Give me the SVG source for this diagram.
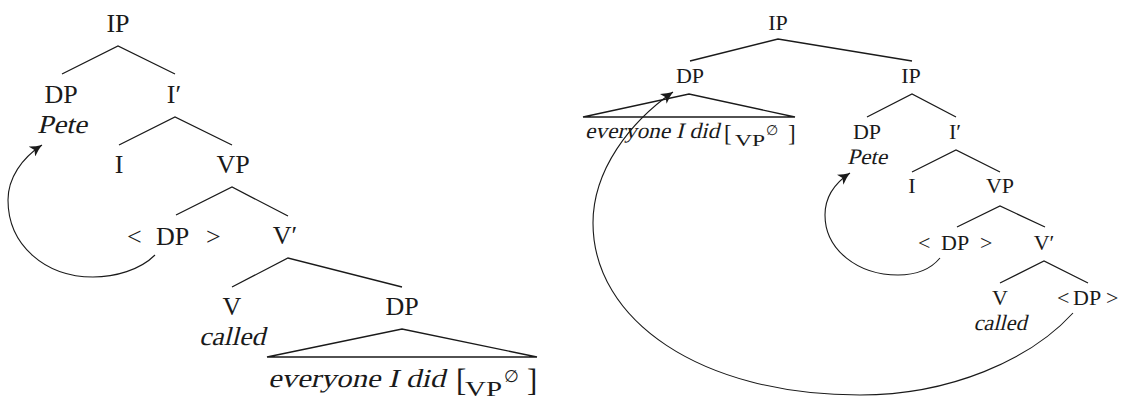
<svg xmlns="http://www.w3.org/2000/svg" width="1126" height="402" viewBox="0 0 1126 402" font-family="'Liberation Serif', 'DejaVu Serif', serif">
<style>
text{font-family:'Liberation Serif','DejaVu Serif',serif;fill:#1a1a1a}
.L{font-size:26px;text-anchor:middle}
.R{font-size:22px;text-anchor:middle}
.edge{stroke:#1a1a1a;stroke-width:1.3;fill:none}
.arr{stroke:#1a1a1a;stroke-width:1.1;fill:none}
</style>
<defs>
<marker id="ah" markerUnits="userSpaceOnUse" markerWidth="14" markerHeight="12" refX="12" refY="6" orient="auto" viewBox="0 0 14 12">
<path d="M0,0 Q6,4 12,6 Q6,8 0,12 L3,6 Z" fill="#1a1a1a"/>
</marker>
</defs>
<rect width="1126" height="402" fill="#fff"/>
<g id="connectors">
<path class="edge" d="M62,74 L118,46 L175,74"/>
<path class="edge" d="M119,145 L175,117 L232,145"/>
<path class="edge" d="M176,215 L232,187 L288,216"/>
<path class="edge" d="M232,287 L288,258 L402,287"/>
<path class="edge" d="M267,357 L402,329 L537,357 Z"/>
<path class="edge" d="M690,61 L778,39 L912,61"/>
<path class="edge" d="M583,117 L689,94 L795,117 Z"/>
<path class="edge" d="M867,117 L912,94 L956,117"/>
<path class="edge" d="M912,172 L956,150 L1000,172"/>
<path class="edge" d="M957,227 L1000,206 L1045,227"/>
<path class="edge" d="M1000,283 L1044,261 L1088,283"/>
<path class="arr" marker-end="url(#ah)" d="M155,255 C140,270 115,277 93,277 C45,277 8,245 8,200 C8,178 22,158 42,145"/>
<path class="arr" marker-end="url(#ah)" d="M940,258 C930,270 915,275 898,275 C858,275 825,250 825,215 C825,197 835,183 850,173"/>
<path class="arr" marker-end="url(#ah)" d="M1073,313 C1030,360 950,395 860,395 C700,395 593,320 593,223 C593,170 630,122 673,92"/>
</g>
<g id="left-IP"><text class="L" x="118" y="32">IP</text></g>
<g id="left-DP-Pete"><text class="L" x="61" y="103">DP</text><text class="L" transform="translate(62,133) skewX(-14)" x="0" y="0" textLength="50" lengthAdjust="spacingAndGlyphs">Pete</text></g>
<g id="left-Ibar"><text class="L" x="174" y="103">I′</text></g>
<g id="left-I"><text class="L" x="119" y="173">I</text></g>
<g id="left-VP"><text class="L" x="233" y="173">VP</text></g>
<g id="left-DPtrace"><text font-size="26"><tspan x="127" y="245">&lt;</tspan><tspan x="156" y="245">DP</tspan><tspan x="206" y="245">&gt;</tspan></text></g>
<g id="left-Vbar"><text class="L" x="285" y="244">V′</text></g>
<g id="left-V"><text class="L" x="232" y="315">V</text><text class="L" transform="translate(232,345) skewX(-14)" x="0" y="0" textLength="66" lengthAdjust="spacingAndGlyphs">called</text></g>
<g id="left-DPobj"><text class="L" x="402" y="315">DP</text>
<text font-size="26" transform="translate(268,387) skewX(-14)" x="0" y="0" textLength="177" lengthAdjust="spacingAndGlyphs">everyone I did</text>
<text x="456" y="391" font-size="31">[</text>
<text x="465" y="396" font-size="21" textLength="37" lengthAdjust="spacingAndGlyphs">VP</text>
<text x="504" y="382" font-size="17">∅</text>
<text x="527" y="391" font-size="31">]</text>
</g>
<g id="right-IP"><text class="R" x="778" y="30">IP</text></g>
<g id="right-DPtop"><text class="R" x="690" y="83">DP</text>
<text font-size="22" transform="translate(585,138) skewX(-14)" x="0" y="0" textLength="134" lengthAdjust="spacingAndGlyphs">everyone I did</text>
<text x="724" y="141" font-size="23">[</text>
<text x="735" y="146" font-size="17" textLength="30" lengthAdjust="spacingAndGlyphs">VP</text>
<text x="766" y="135" font-size="14">∅</text>
<text x="788" y="141" font-size="23">]</text>
</g>
<g id="right-IP2"><text class="R" x="911" y="83">IP</text></g>
<g id="right-DP-Pete"><text class="R" x="867" y="139">DP</text><text class="R" transform="translate(867,164) skewX(-14)" x="0" y="0" textLength="40" lengthAdjust="spacingAndGlyphs">Pete</text></g>
<g id="right-Ibar"><text class="R" x="955" y="139">I′</text></g>
<g id="right-I"><text class="R" x="912" y="193">I</text></g>
<g id="right-VP"><text class="R" x="1000" y="193">VP</text></g>
<g id="right-DPtrace"><text font-size="22"><tspan x="918" y="250">&lt;</tspan><tspan x="941" y="250">DP</tspan><tspan x="980" y="250">&gt;</tspan></text></g>
<g id="right-Vbar"><text class="R" x="1044" y="250">V′</text></g>
<g id="right-V"><text class="R" x="1000" y="305">V</text><text class="R" transform="translate(1000,330) skewX(-14)" x="0" y="0" textLength="53" lengthAdjust="spacingAndGlyphs">called</text></g>
<g id="right-DPtrace2"><text font-size="22"><tspan x="1057" y="305">&lt;</tspan><tspan x="1073" y="305">DP</tspan><tspan x="1106" y="305">&gt;</tspan></text></g>
</svg>
